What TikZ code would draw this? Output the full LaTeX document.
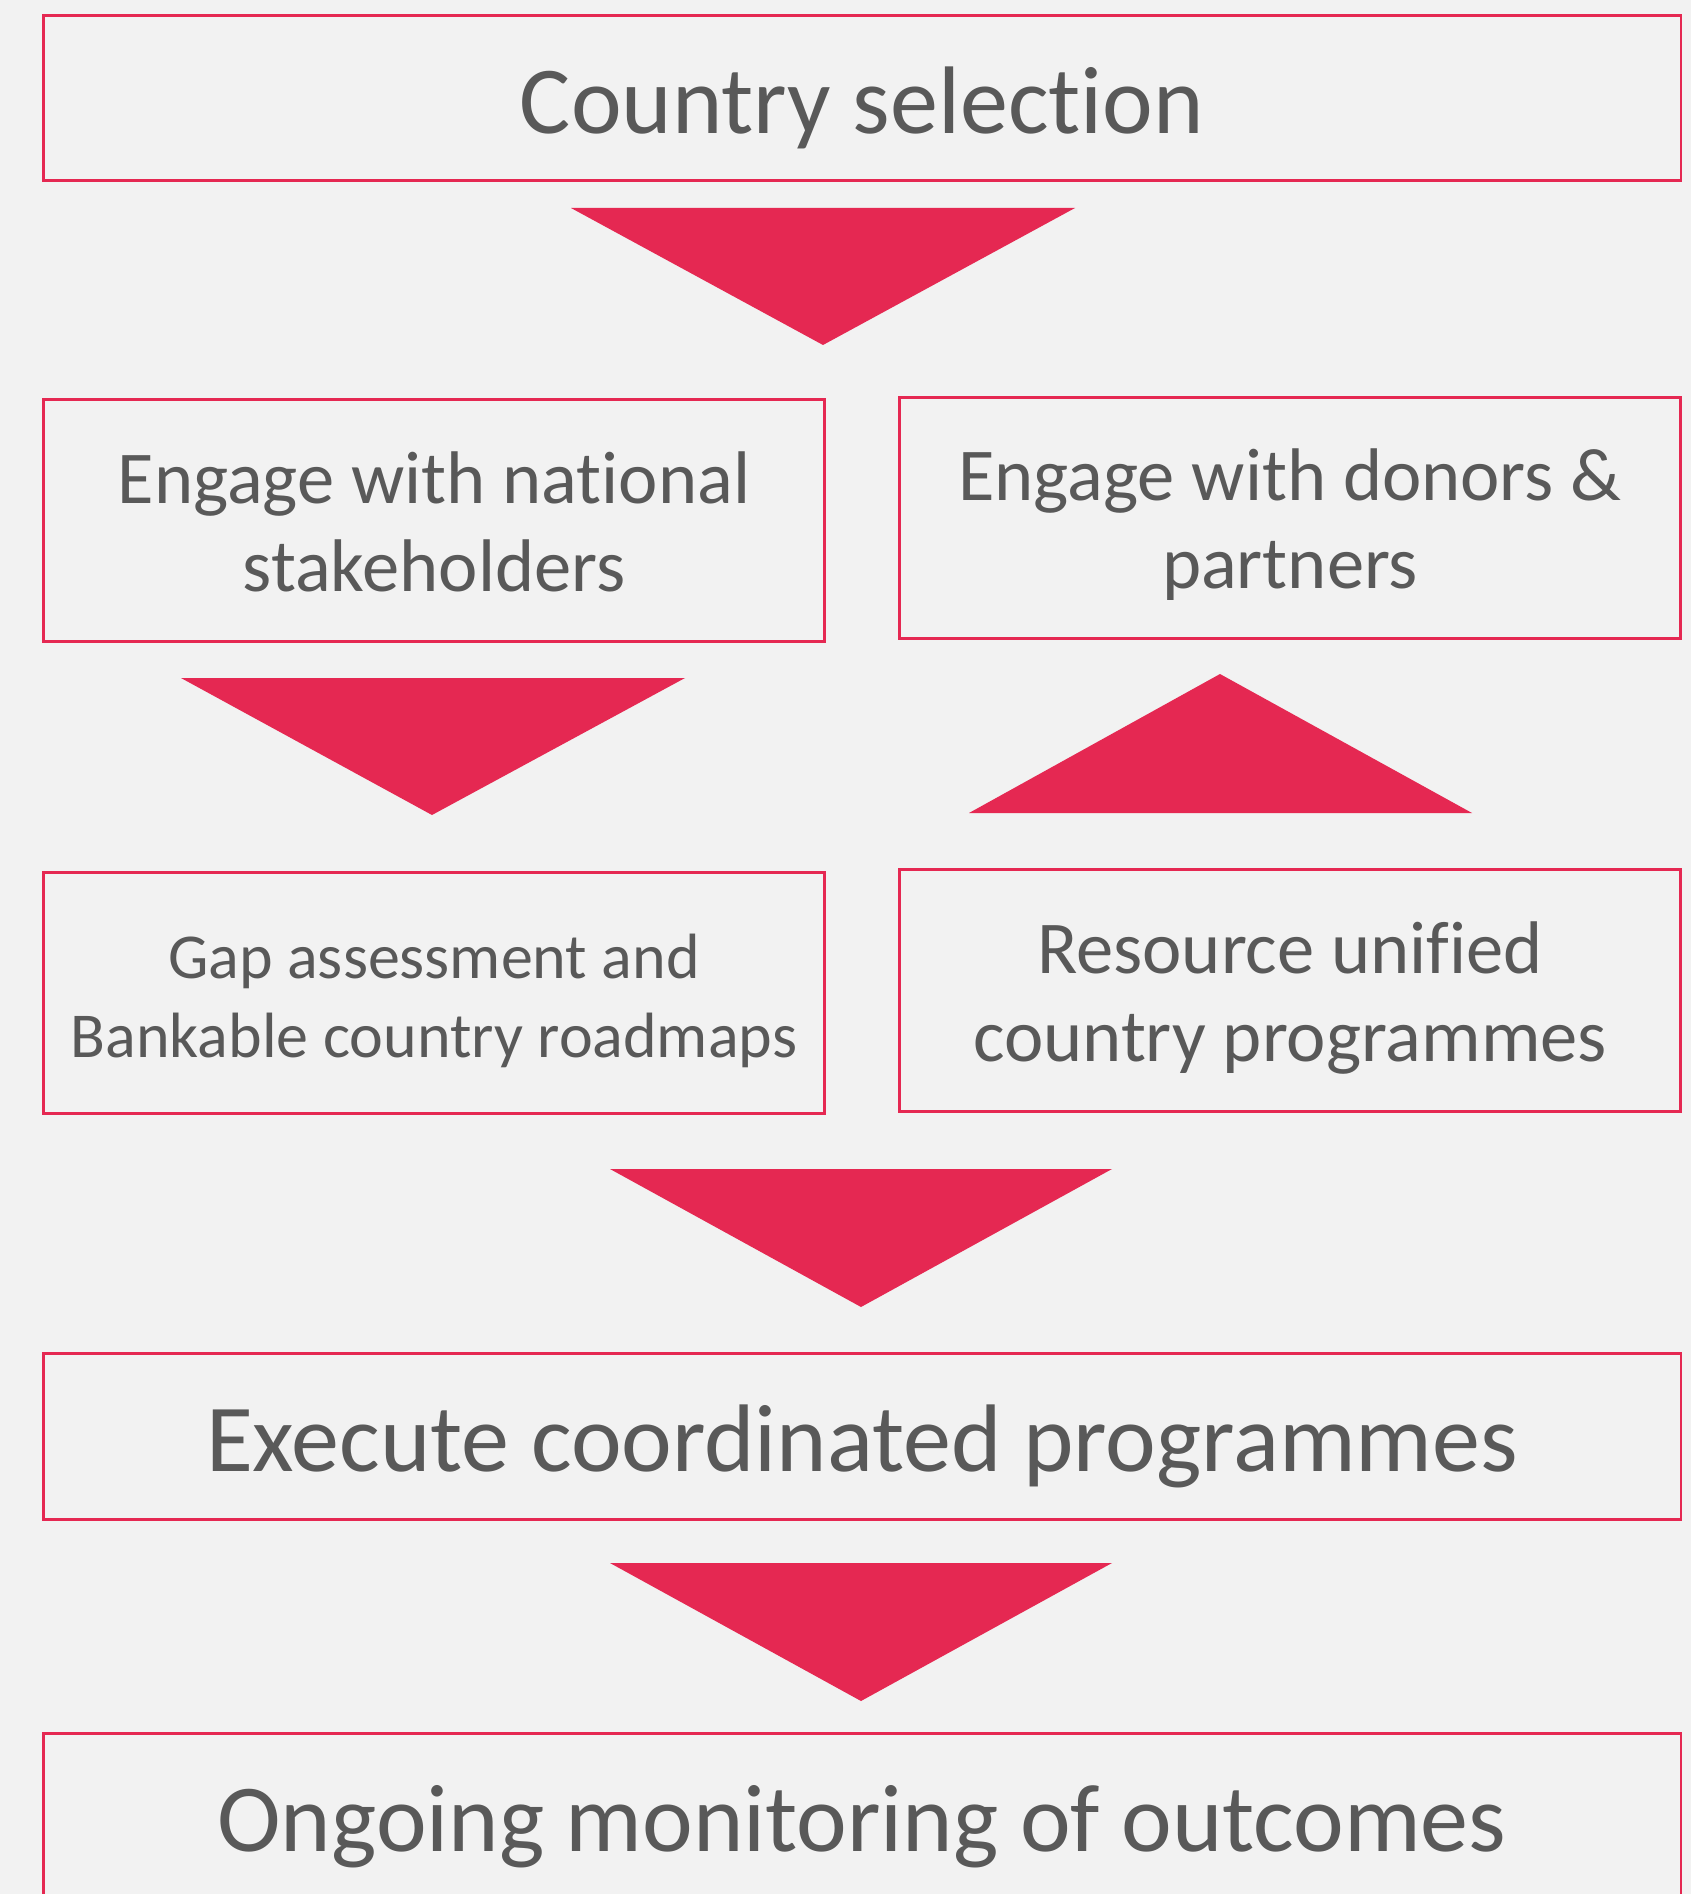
\documentclass[tikz,border=0pt]{standalone}
\usepackage{fontspec}
\setmainfont{Carlito}[Ligatures=CommonOff]
\definecolor{boxred}{HTML}{E52852}
\definecolor{txtgray}{HTML}{595959}
\definecolor{bggray}{HTML}{F2F2F2}
\tikzset{
  stepbox/.style={draw=boxred, line width=0.85pt, fill=bggray, text=txtgray,
    align=center, inner sep=0pt, outer sep=0pt, text depth=0pt},
  wide/.style={stepbox, minimum width=16.37cm, minimum height=1.65cm,
    font=\fontsize{27.3}{33}\selectfont, text height=20pt},
  half/.style={stepbox, minimum width=7.80cm, minimum height=2.41cm,
    font=\fontsize{21.2}{25}\selectfont, text height=40.2pt},
  small/.style={font=\fontsize{18.2}{22.5}\selectfont, text height=36.7pt},
  tri/.style={fill=boxred}
}
\begin{document}
\begin{tikzpicture}[x=0.01cm, y=-0.01cm]
% 背景
\fill[bggray] (0,0) rectangle (1691,1894);
\useasboundingbox (0,0) rectangle (1691,1894);

% ノード(座標で配置)
\node[wide] (country)  at (862,98)     {Country selection};
\node[half] (national) at (434,520.5)  {Engage with national\\stakeholders};
\node[half] (donors)   at (1290,518)   {Engage with donors \&\\partners};
\node[half, small] (gap) at (434,993)  {Gap assessment and\\Bankable country roadmaps};
\node[half] (resource) at (1290,990.5) {Resource unified\\country programmes};
\node[wide] (execute)  at (862,1436.5) {Execute coordinated programmes};
\node[wide] (ongoing)  at (862,1816.5) {Ongoing monitoring of outcomes};

% 三角形の矢印
\fill[tri] (571,208)  -- (1075,208)  -- (823,345)  -- cycle;
\fill[tri] (181,678)  -- (685,678)   -- (432,815)  -- cycle;
\fill[tri] (969,813)  -- (1472,813)  -- (1220,674) -- cycle;
\fill[tri] (610,1169) -- (1112,1169) -- (861,1307) -- cycle;
\fill[tri] (610,1563) -- (1112,1563) -- (861,1701) -- cycle;
\end{tikzpicture}
\end{document}
